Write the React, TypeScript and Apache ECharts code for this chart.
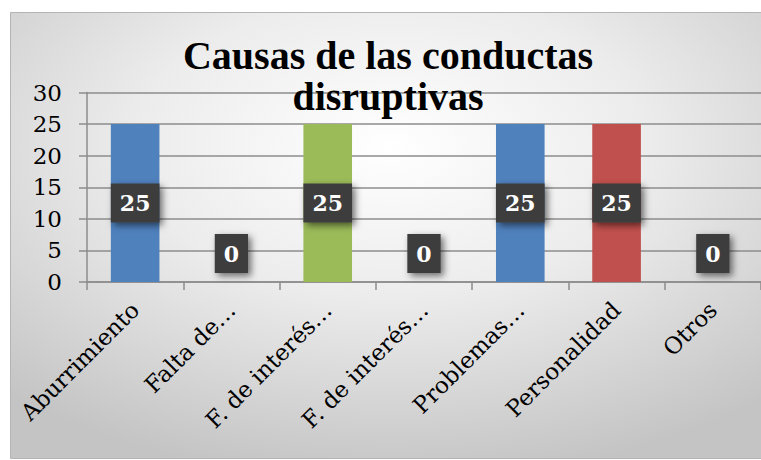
import React, { useEffect, useRef } from "react";
import * as echarts from "echarts";

const titleText = "Causas de las conductas\ndisruptivas";
const categories = [
  "Aburrimiento",
  "Falta de…",
  "F. de interés…",
  "F. de interés…",
  "Problemas…",
  "Personalidad",
  "Otros",
];
const values = [25, 0, 25, 0, 25, 25, 0];
const barColors = ["#4f81bd", "#c0504d", "#9bbb59", "#8064a2", "#4f81bd", "#c0504d", "#4bacc6"];
const yTicks = { min: 0, max: 30, interval: 5 };

export default function App() {
  const ref = useRef<HTMLDivElement>(null);
  useEffect(() => {
    if (!ref.current) return;
    const chart = echarts.init(ref.current, null, { renderer: "svg" });
    const labelBase = {
      show: true,
      color: "#ffffff",
      fontFamily: "DejaVu Serif",
      fontWeight: "bold",
      fontSize: 22,
      lineHeight: 23,
      backgroundColor: "#3c3c3c",
      padding: [8, 9],
      shadowColor: "rgba(0,0,0,0.55)",
      shadowBlur: 7,
      shadowOffsetX: 3,
      shadowOffsetY: 3,
    };
    const data = values.map((v, i) => ({
      value: v,
      itemStyle: { color: barColors[i] },
      label:
        v === 0
          ? { ...labelBase, position: "top", distance: 9 }
          : { ...labelBase, position: "inside" },
    }));
    chart.setOption({
      animation: false,
      graphic: [
        {
          type: "rect",
          z: -10,
          shape: { x: 10.5, y: 12.5, width: 760, height: 446 },
          style: {
            fill: new echarts.graphic.RadialGradient(0.5, 0.3, 0.75, [
              { offset: 0, color: "#ffffff" },
              { offset: 0.45, color: "#ececec" },
              { offset: 1, color: "#c4c4c4" },
            ]),
            stroke: "#b4b4b4",
            lineWidth: 1,
          },
        },
      ],
      title: {
        text: titleText,
        left: 388,
        top: 35,
        textAlign: "center",
        padding: 0,
        textStyle: {
          fontFamily: "Liberation Serif",
          fontWeight: "bold",
          fontSize: 40,
          lineHeight: 41,
          color: "#000000",
        },
      },
      grid: { left: 87, top: 92.5, height: 189.5, width: 680, containLabel: false },
      xAxis: {
        type: "category",
        data: categories,
        axisLine: { show: true, lineStyle: { color: "#8c8c8c", width: 1.5 } },
        axisTick: { show: true, length: 8, alignWithLabel: false, lineStyle: { color: "#8c8c8c", width: 1.5 } },
        axisLabel: {
          interval: 0,
          rotate: 45,
          margin: 24,
          fontFamily: "DejaVu Serif",
          fontSize: 23,
          color: "#000000",
        },
      },
      yAxis: {
        type: "value",
        min: yTicks.min,
        max: yTicks.max,
        interval: yTicks.interval,
        axisLine: { show: true, lineStyle: { color: "#8c8c8c", width: 1.5 } },
        axisTick: { show: true, length: 8, lineStyle: { color: "#8c8c8c", width: 1.5 } },
        splitLine: { show: true, lineStyle: { color: "#8c8c8c", width: 1.5 } },
        axisLabel: {
          margin: 25,
          fontFamily: "DejaVu Serif",
          fontSize: 23,
          color: "#000000",
        },
      },
      series: [
        {
          type: "bar",
          data,
          barWidth: "50.5%",
        },
      ],
    });
    return () => chart.dispose();
  }, []);
  return (
    <div
      ref={ref}
      style={{ position: "fixed", left: 0, top: 0, width: 761, height: 460, background: "#ffffff" }}
    />
  );
}
